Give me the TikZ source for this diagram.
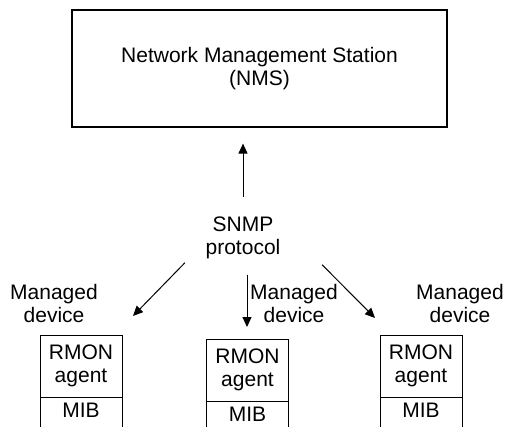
\documentclass[tikz,border=0pt]{standalone}
\usepackage{fontspec}
\setmainfont{Liberation Sans}
\usetikzlibrary{arrows.meta,positioning,calc}

\begin{document}
\begin{tikzpicture}[x=1pt,y=-1pt,
    font=\fontsize{21}{23}\selectfont,
    station/.style={draw,line width=1.2pt,minimum width=375pt,minimum height=117pt,align=center},
    agentbox/.style={draw,line width=1pt,minimum width=82pt,minimum height=62pt,align=center,inner sep=0pt,outer sep=0pt},
    mibbox/.style={draw,line width=1pt,minimum width=82pt,text height=15pt,text depth=30pt,inner sep=5pt,outer sep=0pt},
    lbl/.style={align=center,inner sep=0pt},
    arr/.style={->,line width=1pt},
    >={Triangle[length=10pt,width=9pt]}]
    \clip (0,0) rectangle (510,427);
    \node[station] (nms) at (259.5,68.5) {Network Management Station\\(NMS)};
    \node[lbl] (snmp) at (243,238) {SNMP\\protocol};
    % managed devices
    \node[lbl] (dev1) at (54,303.5) {Managed\\device};
    \node[lbl] (dev2) at (294,303.5) {Managed\\device};
    \node[lbl] (dev3) at (460,303.5) {Managed\\device};
    \node[agentbox] (agent1) at (81,366) {RMON\\agent};
    \node[mibbox,below=0pt of agent1] (mib1) {MIB};
    \node[agentbox] (agent2) at (247.5,370) {RMON\\agent};
    \node[mibbox,below=0pt of agent2] (mib2) {MIB};
    \node[agentbox] (agent3) at (421,366) {RMON\\agent};
    \node[mibbox,below=0pt of agent3] (mib3) {MIB};
    % arrows
    \draw[arr,shorten <=20pt,shorten >=16pt] (snmp.north) -- (snmp.north |- nms.south);
    \draw[arr] ($(snmp.south west)+(-20.5,3.5)$) -- ($(agent1.north east)+(11,-19)$);
    \draw[arr] ($(snmp.south)+(4,15.5)$) -- ($(agent2.north)+(-0.5,-12)$);
    \draw[arr] ($(snmp.south east)+(41.5,5.5)$) -- ($(agent3.north west)+(-5,-17)$);
\end{tikzpicture}
\end{document}
